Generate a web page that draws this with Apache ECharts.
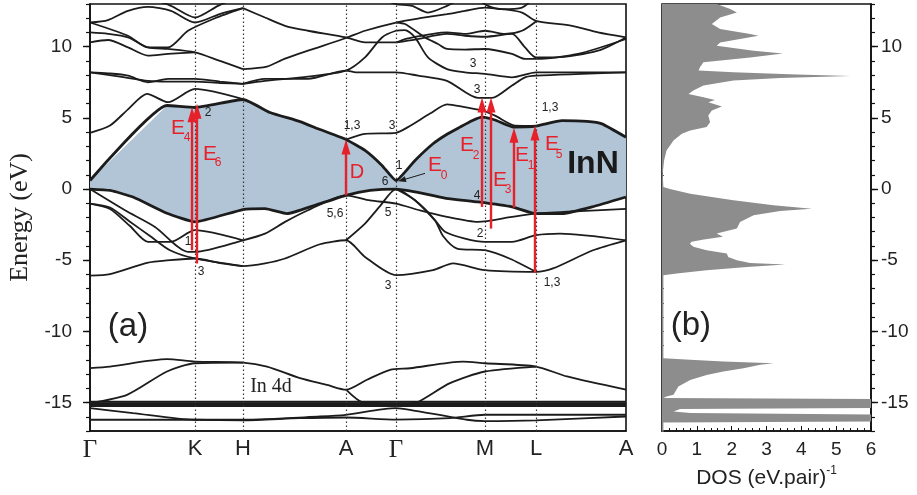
<!DOCTYPE html>
<html>
<head>
<meta charset="utf-8">
<script src="https://cdn.jsdelivr.net/npm/echarts@6/dist/echarts.min.js"></script>
<style>
  html, body { margin: 0; padding: 0; background: #fff; }
  #chart { width: 917px; height: 495px; }
</style>
</head>
<body>
<div id="chart"></div>
<script>
// high symmetry points along the k-path
const kPoints = [0, 1.05, 1.53, 2.56, 3.06, 3.95, 4.46, 5.36];
const kLabels = ['Γ', 'K', 'H', 'A', 'Γ', 'M', 'L', 'A'];

// lowest conduction band (top of shaded gap) and top valence band
const cbBottom = [[0,0.6],[0.77,5.87],[1.05,5.73],[1.53,6.29],[1.8,5.38],[2.1,4.74],[2.3,4.18],[2.56,3.48],[2.75,2.71],[2.92,1.66],[3.06,0.6],[3.25,2.01],[3.43,3.18],[3.57,3.85],[3.7,4.35],[3.82,4.8],[3.92,5.05],[4.05,4.85],[4.23,4.36],[4.46,4.42],[4.72,4.8],[4.97,4.75],[5.12,4.58],[5.36,3.64]];
const vbTop = [[0,0],[0.2,-0.1],[0.43,-0.56],[0.77,-1.7],[1.05,-2.31],[1.53,-1.44],[1.75,-1.38],[1.97,-1.73],[2.25,-1.14],[2.56,-0.44],[2.8,-0.1],[3.06,0],[3.25,-0.2],[3.56,-0.65],[3.88,-0.91],[4.22,-1.26],[4.46,-1.73],[4.72,-1.73],[5.02,-1.26],[5.36,-0.56]];

// other conduction bands
const upperBands = [
  [[0,3.95],[0.2,4.46],[0.38,5.6],[0.57,6.69],[0.78,6.1],[1.05,7.03],[1.53,6.31]],
  [[2.56,3.48],[2.75,3.88],[3.06,3.95],[3.18,4.35],[3.4,5.3],[3.57,5.95],[3.75,5.75],[3.92,5.52],[4.05,5.16],[4.25,4.46],[4.46,4.44]],
  [[0.6,13.4],[0.81,12.87],[1.05,12.05],[1.28,12.87],[1.45,13.4]],
  [[0,11.7],[0.18,11.87],[0.38,12.52],[0.58,12.8],[0.81,12.52],[1.05,11.7],[1.31,12.33],[1.53,12.71]],
  [[0,11.7],[0.38,10.77],[0.58,9.95],[0.78,9.95],[0.98,11.12],[1.25,12.0],[1.53,12.71]],
  [[0,11.0],[0.18,10.9],[0.38,10.65],[0.58,9.95],[0.78,9.84],[1.05,9.6],[1.3,9.0],[1.53,8.43]],
  [[0,10.3],[0.18,10.47],[0.38,9.95],[0.58,9.37],[0.78,9.49],[1.05,9.6]],
  [[0,8.2],[0.18,8.13],[0.38,7.97],[0.58,7.5],[0.78,7.74],[1.05,7.74],[1.3,7.55],[1.53,7.39]],
  [[0,8.2],[0.3,7.9],[0.58,7.6],[0.78,7.55],[1.05,7.55],[1.3,7.45],[1.53,7.39]],
  [[1.53,12.71],[1.75,12.05],[1.95,11.47],[2.18,11.12],[2.56,10.65],[2.75,10.3],[3.06,10.3],[3.15,10.54],[3.57,11.0],[3.75,10.9],[3.95,11.12],[4.15,10.9],[4.32,11.12],[4.46,11.77]],
  [[1.53,8.43],[1.77,8.6],[1.95,9.16],[2.18,9.72],[2.56,10.61],[2.75,11.12],[3.06,11.7],[3.3,12.0],[3.57,12.29],[3.75,12.52],[3.95,12.75],[4.12,12.64],[4.32,12.4],[4.46,11.82],[4.82,11.47],[5.08,11.0],[5.36,10.65]],
  [[3.06,11.7],[3.15,11.59],[3.35,10.65],[3.48,10.19],[3.57,9.84],[3.75,9.8],[3.95,9.84],[4.22,9.49],[4.35,9.14],[4.46,9.14],[4.88,9.49],[5.36,10.54]],
  [[3.06,10.3],[3.25,10.5],[3.57,10.9],[3.75,10.77],[3.95,10.7],[4.22,10.9],[4.35,9.95],[4.46,9.25],[4.65,9.25],[5.08,9.72],[5.36,10.65]],
  [[1.53,7.39],[1.75,7.74],[2.18,7.74],[2.56,8.32],[2.66,8.2],[3.06,8.2],[3.28,7.97],[3.57,7.6],[3.88,6.4],[4.02,6.4],[4.22,7.27],[4.35,7.85],[4.46,7.97],[5.36,8.2]],
  [[1.53,7.39],[1.75,7.6],[2.18,7.9],[2.56,8.32],[2.75,9.25],[2.92,10.65],[3.06,11.12],[3.15,11.17],[3.25,10.65],[3.38,9.25],[3.57,8.43],[3.75,8.2],[3.95,8.09],[4.22,7.85],[4.46,8.2],[5.36,8.2]],
  [[2.95,13.3],[3.06,12.99],[3.22,12.87],[3.38,12.4],[3.57,12.87],[3.68,13.3]],
  [[3.88,13.3],[3.98,12.87],[4.12,12.64],[4.32,12.75],[4.42,13.3]]
];

// valence bands below the top one
const valenceBands = [
  [[0,0],[0.35,-1.49],[0.65,-2.66],[0.98,-4.41],[1.05,-4.41],[1.53,-3.6],[1.75,-3.13],[1.95,-2.31],[2.18,-1.49],[2.56,-0.44],[2.8,-0.8],[3.06,-1.02],[3.3,-1.5],[3.57,-1.96],[3.88,-2.31],[4.22,-1.96],[4.46,-1.73],[4.9,-1.55],[5.36,-1.4]],
  [[0,-1.02],[0.2,-1.4],[0.4,-2.6],[0.58,-3.71],[0.81,-3.71],[1.05,-2.89],[1.53,-3.6]],
  [[0,-1.02],[0.2,-1.3],[0.4,-2.3],[0.6,-3.3],[0.8,-4.3],[1.05,-4.88],[1.53,-5.42]],
  [[2.56,-3.6],[2.75,-2.43],[2.9,-1.2],[3.06,0],[3.25,-0.79],[3.45,-2.2],[3.55,-3.0],[3.75,-3.48],[3.95,-3.71],[4.22,-3.71],[4.46,-3.24],[4.7,-3.13],[5.36,-3.6]],
  [[3.06,0],[3.25,-0.79],[3.45,-2.2],[3.53,-3.3],[3.67,-4.18],[3.95,-4.3],[4.2,-4.9],[4.46,-5.82]],
  [[0,-6.08],[0.2,-5.98],[0.57,-5.19],[0.8,-5.0],[1.05,-4.88],[1.3,-5.2],[1.53,-5.42],[1.75,-5.23],[1.95,-4.88],[2.3,-3.88],[2.56,-3.6],[2.75,-4.77],[3.06,-6.05],[3.43,-5.7],[3.63,-5.23],[3.95,-5.7],[4.46,-5.82],[4.63,-5.58],[5.03,-4.3],[5.36,-3.6]]
];

// In 4d region
const semicoreBands = [
  [[0,-12.58],[0.2,-12.47],[0.77,-11.95],[1.05,-12.12],[1.53,-12.19],[1.77,-12.47],[2.1,-13.29],[2.37,-13.76],[2.56,-14.1],[2.77,-13.4],[3.0,-12.7],[3.2,-12.59],[3.73,-12.12],[3.95,-12.24],[4.46,-12.47],[4.77,-13.17],[5.36,-14.1]],
  [[0,-15.04],[0.37,-14.46],[0.77,-12.82],[1.05,-12.24],[1.53,-12.19]],
  [[2.56,-14.1],[2.73,-15.0],[2.9,-15.05]],
  [[3.2,-15.05],[3.27,-15.0],[3.6,-13.64],[3.95,-12.82],[4.46,-12.47]],
  [[0,-15.39],[0.43,-15.74],[1.05,-16.21],[1.53,-16.21],[2.3,-15.98],[2.56,-15.86],[3.06,-15.39],[3.2,-15.51],[3.77,-16.21],[3.95,-16.3],[4.46,-16.25],[5.36,-15.98]],
  [[0,-16.21],[1.05,-16.21],[1.53,-16.25],[2.1,-16.1],[2.56,-16.05],[3.06,-16.2],[3.6,-16.1],[3.95,-15.86],[5.36,-15.86]]
];
const dBandLevels = [-14.95, -15.05, -15.15, -15.25];

// optical transitions: [k, from E, to E]
const transitions = [[1.02,-4.3,5.75],[1.07,-5.23,6.0],[2.56,-0.44,3.48],[3.92,-1.26,6.43],[4.01,-2.78,6.43],[4.24,-1.3,4.3],[4.45,-5.89,4.46]];
const e0Pointer = [[3.35,1.1,3.08,0.54]];

// density of states
const dosEnergy = [13.0,12.64,12.41,12.06,11.59,11.24,10.89,10.77,10.54,10.3,10.07,9.72,9.53,9.25,8.9,8.55,8.32,8.2,8.04,7.94,7.8,7.62,7.27,6.92,6.68,6.45,6.26,6.1,5.8,5.52,5.17,4.7,4.35,4.11,3.88,3.41,2.71,2.01,1.08,0.14,0,-0.33,-0.79,-1.14,-1.38,-1.54,-1.84,-2.31,-2.78,-3.13,-3.35,-3.55,-3.7,-3.85,-4.06,-4.3,-4.53,-4.77,-5.0,-5.19,-5.3,-5.47,-5.7,-5.93,-6.05,-11.89,-12.0,-12.12,-12.24,-12.35,-12.59,-12.82,-13.06,-13.41,-13.88,-14.46,-14.58,-14.69,-14.76,-15.39,-15.46,-15.63,-15.74,-15.84,-16.33,-16.4,-17.0];
const dosValue = [1.57,1.96,2.15,1.67,1.43,1.67,2.53,2.77,2.24,1.67,1.57,2.63,3.47,2.53,1.19,1.09,1.05,2.05,3.87,5.41,3.39,2.05,1.19,0.9,0.76,1.19,1.52,1.33,1.72,1.43,1.33,1.38,1.28,0.81,0.57,0.33,0.13,0.06,0.02,0.04,0.23,0.81,2.05,3.2,4.3,3.39,2.63,2.24,2.15,1.57,1.75,1.2,0.85,0.8,0.9,1.28,1.86,1.9,2.15,2.53,3.54,2.44,1.28,0.42,0.04,0.04,0.81,1.76,3.2,2.82,2.34,1.76,1.28,0.81,0.47,0.33,0.13,0.04,6,6,0.52,0.33,0.81,6,6,0.04,0.04];

// text annotations: [x, y, text, style]
const bandNotes = [
  [1.18,5.37,'2','num'],[0.98,-3.71,'1','num'],[1.11,-5.81,'3','num'],
  [2.62,4.46,'1,3','num'],[3.02,4.46,'3','num'],[3.09,1.66,'1','num'],[2.95,0.54,'6','num'],
  [2.45,-1.7,'5,6','num'],[2.98,-1.63,'5','num'],[2.98,-6.82,'3','num'],
  [3.83,8.81,'3','num'],[3.87,6.99,'3','num'],[4.6,5.73,'1,3','num'],[3.87,-0.44,'4','num'],
  [3.9,-3.13,'2','num'],[4.62,-6.59,'1,3','num'],
  [0.88,4.25,'E','E'],[0.97,3.62,'4','sub'],[1.2,2.48,'E','E'],[1.28,1.82,'6','sub'],
  [2.67,1.19,'D','D'],[3.45,1.66,'E','E'],[3.54,0.96,'0','sub'],
  [3.77,3.06,'E','E'],[3.86,2.36,'2','sub'],[4.1,0.61,'E','E'],[4.18,-0.04,'3','sub'],
  [4.32,2.36,'E','E'],[4.41,1.66,'1','sub'],[4.62,3.18,'E','E'],[4.69,2.43,'5','sub'],
  [0.38,-9.7,'(a)','panel'],[5.03,1.73,'InN','inn'],[1.81,-13.9,'In 4d','serif']
];
const dosNotes = [[0.83,-9.63,'(b)','panel']];

const RED = '#e62129';
const INK = '#1c1c1c';
const textStyles = {
  num: { font: '12px "Liberation Sans"', color: '#222' },
  E: { font: '21px "Liberation Sans"', color: RED },
  sub: { font: '12px "Liberation Sans"', color: RED },
  D: { font: '20px "Liberation Sans"', color: RED },
  panel: { font: '33px "Liberation Sans"', color: '#222' },
  inn: { font: 'bold 32px "Liberation Sans"', color: '#1a1a1a' },
  serif: { font: '20px "Liberation Serif"', color: '#222' }
};

const chart = echarts.init(document.getElementById('chart'));

function bandLine(pts, width, smooth) {
  return {
    type: 'line', xAxisIndex: 0, yAxisIndex: 0, data: pts, symbol: 'none', smooth: smooth,
    lineStyle: { color: INK, width: width }, silent: true, z: 4
  };
}

// filled outline drawn through the axes
function areaSeries(points, color, xi, yi, z) {
  return {
    type: 'custom', xAxisIndex: xi, yAxisIndex: yi, z: z, silent: true, data: points,
    renderItem: function (params, api) {
      if (params.dataIndex !== 0) return null;
      const pts = [];
      for (let i = 0; i < params.dataInsideLength; i++) {
        pts.push(api.coord([api.value(0, i), api.value(1, i)]));
      }
      return { type: 'polygon', shape: { points: pts }, style: { fill: color } };
    }
  };
}

function arrowSeries(list, color, width, headLen, headW) {
  return {
    type: 'custom', xAxisIndex: 0, yAxisIndex: 0, z: 6, silent: true, data: list,
    renderItem: function (params, api) {
      const p0 = api.coord([api.value(0), api.value(1)]);
      const p1 = api.coord([api.value(2), api.value(3)]);
      const dx = p1[0] - p0[0], dy = p1[1] - p0[1];
      const len = Math.sqrt(dx * dx + dy * dy);
      const ux = dx / len, uy = dy / len;
      const bx = p1[0] - ux * headLen, by = p1[1] - uy * headLen;
      return {
        type: 'group',
        children: [
          { type: 'line', shape: { x1: p0[0], y1: p0[1], x2: bx + ux, y2: by + uy }, style: { stroke: color, lineWidth: width } },
          { type: 'polygon', shape: { points: [[p1[0], p1[1]], [bx - uy * headW, by + ux * headW], [bx + uy * headW, by - ux * headW]] }, style: { fill: color } }
        ]
      };
    }
  };
}

function textSeries(items, xi, yi) {
  return {
    type: 'custom', xAxisIndex: xi, yAxisIndex: yi, z: 8, silent: true,
    data: items.map(function (t) { return [t[0], t[1]]; }),
    renderItem: function (params, api) {
      const t = items[params.dataIndex];
      const s = textStyles[t[3]];
      const p = api.coord([api.value(0), api.value(1)]);
      return { type: 'text', x: p[0], y: p[1], style: { text: t[2], fill: s.color, font: s.font, align: 'center', verticalAlign: 'middle' } };
    }
  };
}

const gapOutline = cbBottom.concat(vbTop.slice().reverse());
const dosOutline = [[0, dosEnergy[0]]]
  .concat(dosEnergy.map(function (e, i) { return [dosValue[i], e]; }))
  .concat([[0, dosEnergy[dosEnergy.length - 1]]]);

const series = [];
series.push(areaSeries(gapOutline, '#b1c5d6', 0, 0, 1));
// dotted lines at the symmetry points
series.push({
  type: 'line', xAxisIndex: 0, yAxisIndex: 0, data: [], silent: true, z: 2,
  markLine: {
    silent: true, symbol: 'none', label: { show: false },
    lineStyle: { color: '#333', width: 1.2, type: [1.5, 2.5] },
    data: kPoints.slice(1, -1).map(function (v) { return { xAxis: v }; })
  }
});
upperBands.forEach(function (b) { series.push(bandLine(b, 1.8, 0.25)); });
valenceBands.forEach(function (b) { series.push(bandLine(b, 1.8, 0.25)); });
semicoreBands.forEach(function (b) { series.push(bandLine(b, 1.8, 0.25)); });
dBandLevels.forEach(function (e) { series.push(bandLine([[0, e], [5.36, e]], 2, false)); });
series.push(bandLine(cbBottom, 2.8, 0.15));
series.push(bandLine(vbTop, 2.8, 0.15));
series.push(arrowSeries(transitions.map(function (t) { return [t[0], t[1], t[0], t[2]]; }), RED, 2.4, 15, 4.5));
series.push(arrowSeries(e0Pointer, INK, 1, 8, 3));
series.push(textSeries(bandNotes, 0, 0));
series.push(areaSeries(dosOutline, '#8d8d8d', 1, 2, 1));
series.push(textSeries(dosNotes, 1, 2));

const majorTicks = [-15, -10, -5, 0, 5, 10];
const axisText = { color: '#222', fontFamily: 'Liberation Sans', fontSize: 19 };
const frameLine = { show: true, onZero: false, lineStyle: { color: '#111', width: 1.6 } };
const noLine = { show: false, onZero: false };

chart.setOption({
  animation: false,
  grid: [
    { left: 90, top: 4, width: 536, height: 427, show: true, borderColor: '#111', borderWidth: 1.6, backgroundColor: 'transparent', containLabel: false, outerBoundsMode: 'none' },
    { left: 662, top: 4, width: 209, height: 427, show: true, borderColor: '#111', borderWidth: 1.6, backgroundColor: 'transparent', containLabel: false, outerBoundsMode: 'none' }
  ],
  xAxis: [
    {
      gridIndex: 0, type: 'value', min: 0, max: 5.36,
      axisLine: frameLine,
      axisTick: { show: false }, splitLine: { show: false },
      axisLabel: {
        customValues: kPoints, margin: 7,
        formatter: function (v) {
          const i = kPoints.findIndex(function (p) { return Math.abs(p - v) < 1e-6; });
          const n = kLabels[i];
          return n === 'Γ' ? '{g|Γ}' : '{s|' + n + '}';
        },
        rich: {
          g: { fontFamily: 'Liberation Serif', fontSize: 25, color: '#222' },
          s: { fontFamily: 'Liberation Sans', fontSize: 22, color: '#222' }
        }
      }
    },
    {
      gridIndex: 1, type: 'value', min: 0, max: 6, interval: 1,
      axisLine: frameLine,
      axisTick: { show: true, inside: true, length: 5, lineStyle: { color: '#111' } },
      minorTick: { show: true, splitNumber: 5, length: 3, lineStyle: { color: '#111' } },
      splitLine: { show: false },
      axisLabel: Object.assign({ margin: 9 }, axisText),
      name: '{a|DOS (eV.pair)}{b|-1}', nameLocation: 'middle', nameGap: 34,
      nameTextStyle: {
        rich: {
          a: { fontFamily: 'Liberation Sans', fontSize: 21, color: '#222', lineHeight: 26 },
          b: { fontFamily: 'Liberation Sans', fontSize: 12, color: '#222', verticalAlign: 'top', lineHeight: 14 }
        }
      }
    }
  ],
  yAxis: [
    {
      gridIndex: 0, type: 'value', min: -17, max: 13, position: 'left',
      axisLine: frameLine,
      axisTick: { show: true, customValues: majorTicks, length: 7, lineStyle: { color: '#111', width: 1.4 } },
      axisLabel: Object.assign({ customValues: majorTicks, margin: 18 }, axisText),
      splitLine: { show: false },
      name: 'Energy (eV)', nameLocation: 'middle', nameGap: 56, nameRotate: 90,
      nameTextStyle: { fontFamily: 'Liberation Serif', fontSize: 26, color: '#222' }
    },
    {
      gridIndex: 0, type: 'value', min: -17, max: 13, interval: 1, position: 'left',
      axisLine: noLine, axisLabel: { show: false }, splitLine: { show: false },
      axisTick: { show: true, length: 4, lineStyle: { color: '#111', width: 1.2 } }
    },
    {
      gridIndex: 1, type: 'value', min: -17, max: 13, position: 'right',
      axisLine: frameLine,
      axisTick: { show: true, customValues: majorTicks, length: 7, lineStyle: { color: '#111', width: 1.4 } },
      axisLabel: Object.assign({ customValues: majorTicks, margin: 10 }, axisText),
      splitLine: { show: false }
    },
    {
      gridIndex: 1, type: 'value', min: -17, max: 13, interval: 1, position: 'right',
      axisLine: noLine, axisLabel: { show: false }, splitLine: { show: false },
      axisTick: { show: true, length: 4, lineStyle: { color: '#111', width: 1.2 } }
    },
    {
      gridIndex: 1, type: 'value', min: -17, max: 13, interval: 1, position: 'left',
      axisLine: noLine, axisLabel: { show: false }, splitLine: { show: false },
      axisTick: { show: true, inside: true, length: 2, lineStyle: { color: '#555', width: 1 } }
    }
  ],
  series: series
});
</script>
</body>
</html>
